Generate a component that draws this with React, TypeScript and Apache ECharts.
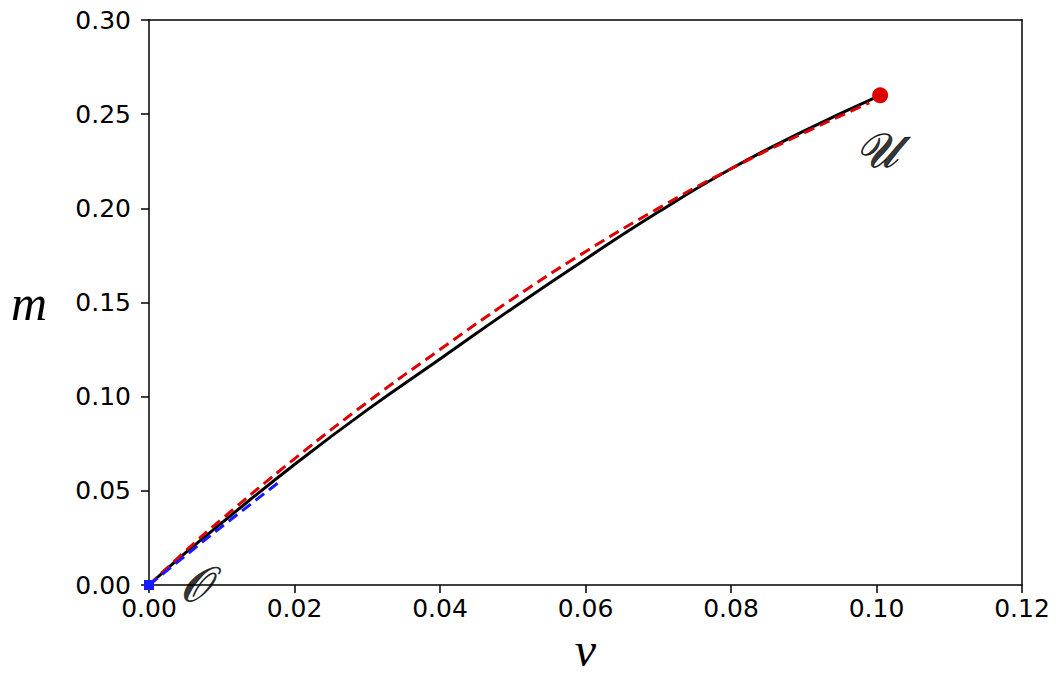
import React, { useEffect, useRef } from "react";
import * as echarts from "echarts";

const xTicks = [0, 0.02, 0.04, 0.06, 0.08, 0.1, 0.12];
const yTicks = [0, 0.05, 0.1, 0.15, 0.2, 0.25, 0.3];

const blackV = [0, 0.005, 0.01, 0.02, 0.03, 0.04, 0.05, 0.06, 0.07, 0.08, 0.09, 0.1005];
const blackM = [0, 0.017, 0.033, 0.064, 0.093, 0.12, 0.147, 0.173, 0.198, 0.221, 0.241, 0.26];

const redV = [0, 0.005, 0.01, 0.02, 0.03, 0.04, 0.05, 0.06, 0.07, 0.08, 0.09, 0.099];
const redM = [0, 0.018, 0.035, 0.067, 0.097, 0.125, 0.152, 0.177, 0.2, 0.221, 0.24, 0.256];

const blueV = [0, 0.009, 0.018];
const blueM = [0, 0.028, 0.055];

const endPoint = [0.1005, 0.26];
const originPoint = [0, 0];

const labelU = { v: 0.1, m: 0.231, text: "𝒰" };
const labelO = { v: 0.0063, m: 0.0005, text: "𝒪" };

const zip = (a: number[], b: number[]) => a.map((x, i) => [x, b[i]]);

export default function App() {
  const ref = useRef<HTMLDivElement>(null);
  useEffect(() => {
    const chart = echarts.init(ref.current!, null, { renderer: "svg" });
    const tickFont = { fontFamily: "DejaVu Sans", fontSize: 25, color: "#000" };
    const mathFont = { fontFamily: "Liberation Serif", fontStyle: "italic" as const, color: "#000" };
    const frameLine = { show: true, onZero: false, lineStyle: { color: "#000", width: 1.5 } };
    chart.setOption({
      animation: false,
      backgroundColor: "#fff",
      grid: { left: 149, right: 39, top: 20, bottom: 92, outerBoundsMode: "none", containLabel: false },
      xAxis: [
        {
          type: "value",
          min: xTicks[0],
          max: xTicks[xTicks.length - 1],
          interval: 0.02,
          name: "v",
          nameLocation: "middle",
          nameGap: 20,
          nameTextStyle: { ...mathFont, fontSize: 48, lineHeight: 48 },
          axisLine: frameLine,
          axisTick: { show: true, length: 8, lineStyle: { color: "#000", width: 1.5 } },
          axisLabel: { ...tickFont, margin: 11, formatter: (v: number) => v.toFixed(2) },
          splitLine: { show: false },
        },
        {
          type: "value",
          position: "top",
          min: 0,
          max: 0.12,
          axisLine: frameLine,
          axisTick: { show: false },
          axisLabel: { show: false },
          splitLine: { show: false },
        },
      ],
      yAxis: [
        {
          type: "value",
          min: yTicks[0],
          max: yTicks[yTicks.length - 1],
          interval: 0.05,
          name: "m",
          nameLocation: "middle",
          nameGap: 102,
          nameRotate: 0,
          nameTextStyle: { ...mathFont, fontSize: 50 },
          axisLine: frameLine,
          axisTick: { show: true, length: 8, lineStyle: { color: "#000", width: 1.5 } },
          axisLabel: { ...tickFont, margin: 18, formatter: (v: number) => v.toFixed(2) },
          splitLine: { show: false },
        },
        {
          type: "value",
          position: "right",
          min: 0,
          max: 0.3,
          axisLine: frameLine,
          axisTick: { show: false },
          axisLabel: { show: false },
          splitLine: { show: false },
        },
      ],
      series: [
        {
          type: "line",
          data: zip(blackV, blackM),
          smooth: true,
          showSymbol: false,
          lineStyle: { color: "#000", width: 3 },
          z: 2,
        },
        {
          type: "line",
          data: zip(redV, redM),
          smooth: true,
          showSymbol: false,
          lineStyle: { color: "#dd0000", width: 3, type: [11, 6] },
          z: 3,
        },
        {
          type: "line",
          data: zip(blueV, blueM),
          showSymbol: false,
          lineStyle: { color: "#1a1aff", width: 3, type: [11, 6] },
          z: 3,
        },
        {
          type: "scatter",
          data: [endPoint],
          symbol: "circle",
          symbolSize: 16,
          itemStyle: { color: "#dd0000", opacity: 1 },
          z: 4,
        },
        {
          type: "scatter",
          data: [originPoint],
          symbol: "rect",
          symbolSize: 10,
          itemStyle: { color: "#1a1aff", opacity: 1 },
          z: 4,
        },
        {
          type: "scatter",
          data: [[labelU.v, labelU.m], [labelO.v, labelO.m]],
          symbolSize: 2,
          itemStyle: { color: "rgba(0,0,0,0)" },
          label: {
            show: true,
            position: "inside",
            formatter: (p: any) => (p.dataIndex === 0 ? labelU.text : labelO.text),
            fontFamily: "DejaVu Serif",
            fontStyle: "italic",
            fontSize: 48,
            color: "#000",
            textBorderColor: "#000",
            textBorderWidth: 0.8,
          },
          z: 5,
        },
      ],
    });
    return () => chart.dispose();
  }, []);
  return <div ref={ref} style={{ width: 1061, height: 677, position: "absolute", left: 0, top: 0 }} />;
}
